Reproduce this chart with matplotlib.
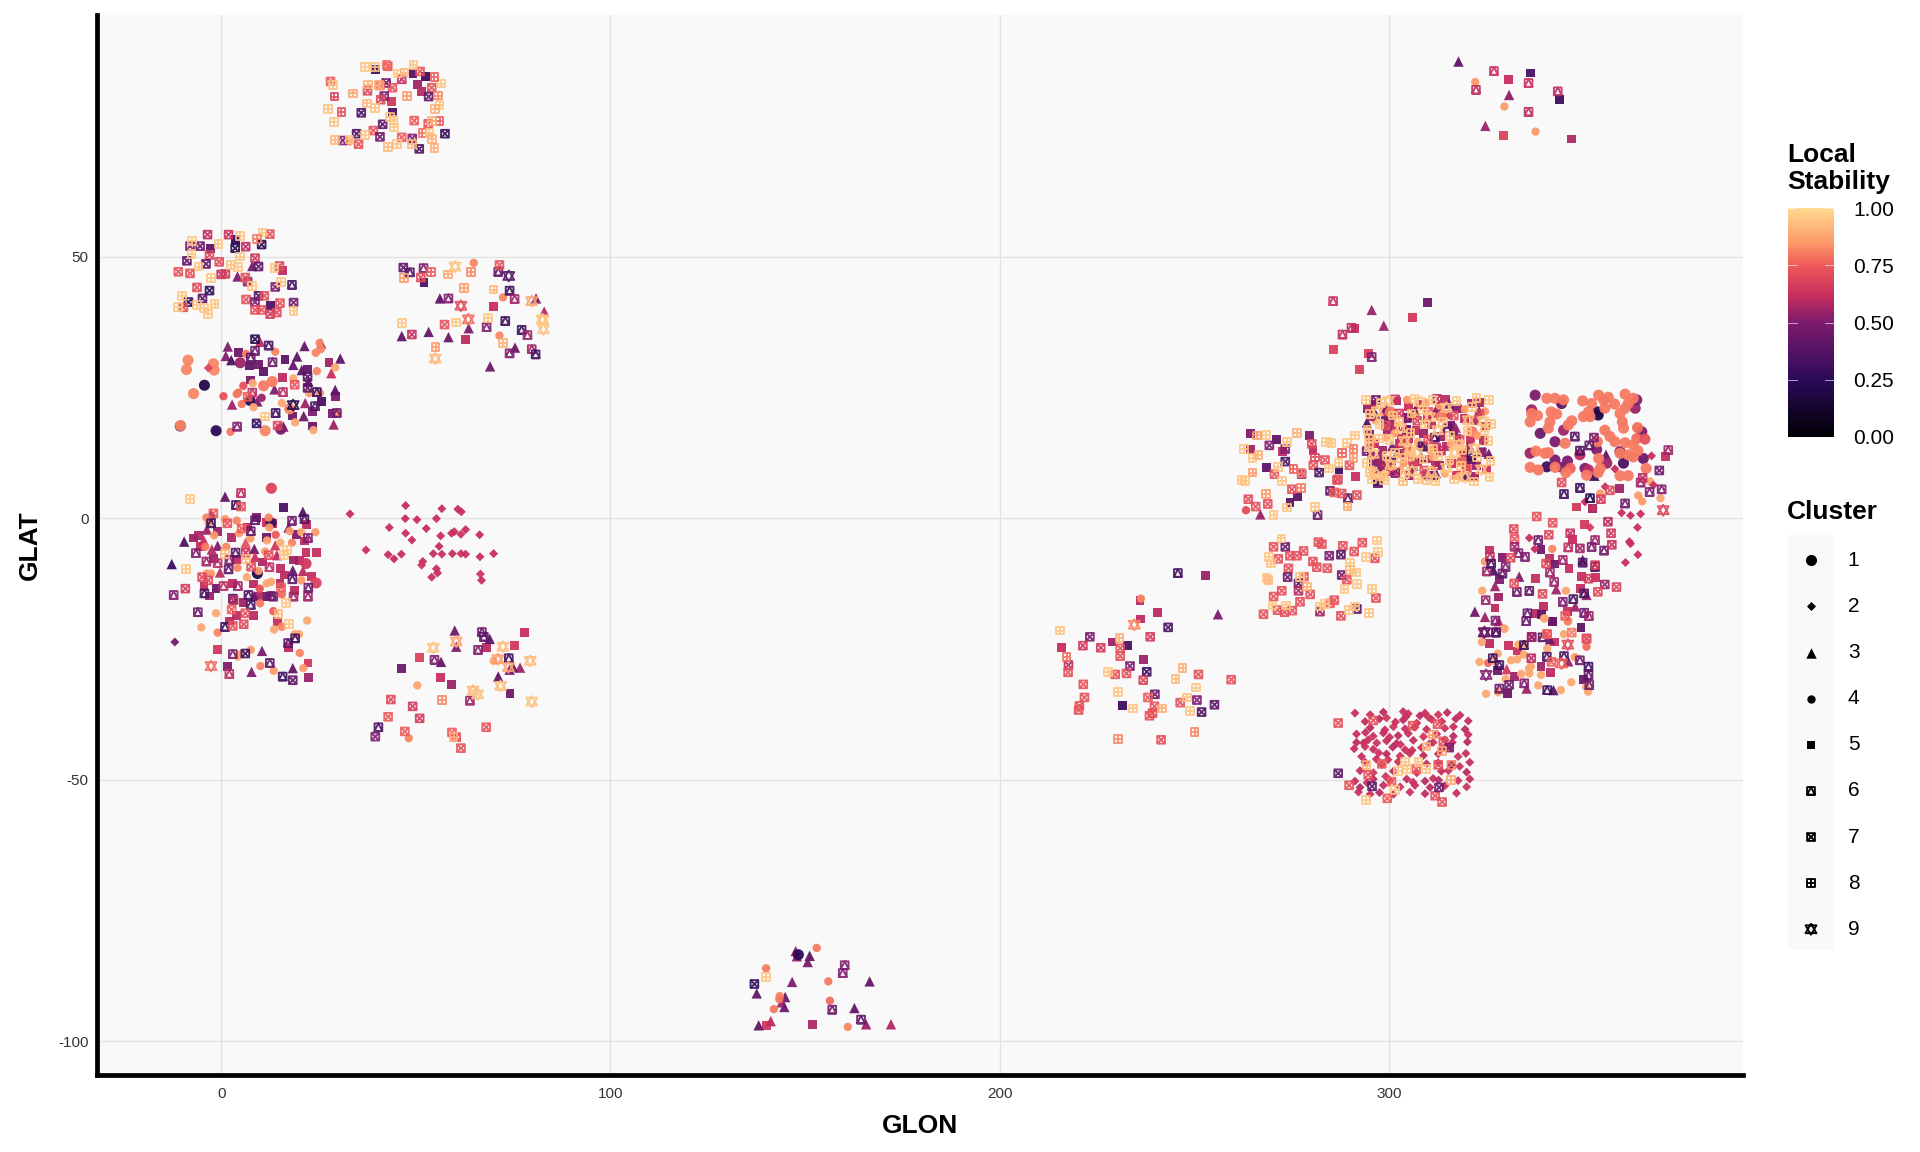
import matplotlib
matplotlib.use("Agg")
import matplotlib.pyplot as plt
import numpy as np
from matplotlib.colors import LinearSegmentedColormap
from matplotlib.path import Path

plt.rcParams['font.family'] = ['Liberation Sans', 'DejaVu Sans']
plt.rcParams['axes.unicode_minus'] = False

# every point is (GLON, GLAT, local stability)
cluster1 = [
    (-10.5,17.6,.4),(-4.3,25.4,.2),(-1.3,16.7,.25),(7.4,22.5,.25),(15.3,17,.5),(4.9,29.7,.55),(12.8,-.9,.3),(9.3,-10.6,.2),
    (12.9,5.7,.68),(24.4,-12.4,.68),(21.8,-8.7,.65),
    (-8.5,30.2,.82),(-8.9,28.4,.82),(-2,29.5,.82),(-1.8,28.3,.82),(-7.1,23.8,.82),(-10.4,17.7,.82),(11.3,16.7,.82),
    (10.9,25.3,.8),(13.1,26.1,.8),(17.6,20.9,.82),
    (337.6,23.5,.5),(336.7,20.7,.55),(344.4,21.9,.4),(353.6,20.3,.2),(353.8,19.7,.2),(363.3,21,.55),(363.7,22.6,.5),
    (342.7,14.6,.5),(344.9,16.8,.55),(338.9,16.2,.45),(336.3,12.4,.55),(349.1,12.1,.6),(353.4,13.1,.5),(342.7,11.1,.5),
    (345.9,10.9,.5),(344.5,9.7,.5),(350.4,9.5,.5),(351.3,9.2,.6),(356,10.5,.55),(360.3,10.5,.35),(365.4,11.4,.45),
    (365,16.5,.5),(359.4,12.7,.45),(340.6,9.8,.3),
    (336.3,18.4,.8),(336.7,20,.8),(338.2,19.6,.8),(340.6,22.9,.8),(342.7,22.9,.8),(344.9,22.6,.8),(341.7,20.3,.8),
    (343.1,19.9,.8),(341.4,18.4,.8),(341,17.2,.8),(349.8,22.4,.8),(352.1,21.9,.8),(353.9,23.5,.8),(356.4,23.1,.8),
    (355.2,22.6,.8),(358,21.8,.8),(360.7,23.7,.8),(362.8,22.9,.8),(361.5,21.9,.8),(360.7,21,.8),(359.4,20,.8),
    (360,18.4,.8),(360.3,17.2,.8),(355.5,21,.8),(351.3,20.3,.8),(350,19.4,.8),(351.7,19.4,.8),(347,18.6,.8),
    (346.1,17.8,.8),(355.5,16.8,.8),(356.8,15.6,.8),(358.1,14.6,.8),(360.7,14.4,.8),(363.9,17.3,.78),(363.7,15.2,.78),
    (362.8,14,.8),(365.8,15.1,.72),(353.6,14.6,.8),(345.3,14.3,.8),(337.8,12.8,.8),(340.1,12.4,.8),(341,12.5,.8),
    (336.3,9.7,.8),(338.4,9.2,.8),(342.7,9.7,.8),(346.6,9.5,.76),(345.5,8.7,.8),(350.8,8.2,.8),(353.9,11.4,.8),
    (354.3,9.5,.8),(353.8,8.7,.8),(359.4,12.4,.8),(361.5,12.1,.8),(362.8,11.7,.8),(364,12.9,.8),(361.5,8.1,.8),
    (359.4,8.1,.8),(366.1,9.5,.8),
    (300.4,20.3,.8),(313.4,19.4,.8),(305.2,12.6,.82),(318.7,10.8,.75),(297.7,11.2,.55),(309.5,8.3,.5),(321.4,16.5,.8),
    (148.3,-83.5,.25),
]
cluster2 = [
    (33.1,.8,.62),(37.2,-6.1,.62),(-11.9,-23.7,.47),(47.4,2.4,.62),(56.7,1.8,.62),(60.8,1.7,.62),(61.7,1.2,.62),
    (47.3,-.1,.62),(50.3,-.3,.62),(55.3,-.1,.62),(43.2,-1.8,.62),(52.7,-2,.62),(47.4,-2.9,.62),(56.4,-3.4,.62),
    (49,-4.2,.62),(59.2,-2.9,.62),(59.9,-2.6,.62),(62.8,-2.2,.62),(61.6,-3.1,.64),(66.4,-3.2,.62),(56,-5.4,.62),
    (54.5,-6.8,.62),(56.7,-6.9,.62),(59.4,-6.8,.62),(61.6,-6.8,.64),(62.8,-6.9,.62),(70,-6.8,.62),(66.5,-7.4,.62),
    (42.9,-7,.62),(44.4,-7.8,.62),(46.3,-6.9,.62),(51.8,-8.3,.62),(51.5,-9,.64),(55.3,-9.7,.62),(55.6,-10.5,.62),
    (54.1,-11.3,.62),(66.6,-10.7,.64),(66.9,-11.9,.62),
    (367.5,11.9,.62),(359.8,1,.62),(362.1,.5,.62),(364.7,.8,.62),(363.9,-1.8,.62),(361.8,-4.5,.62),(362.1,-4.9,.62),
    (364,-7,.62),(360.8,-8.5,.62),(351.7,-1.8,.66),(336.1,-3.8,.62),(337.5,-5.9,.62),(368,6.3,.62),(358.1,9.4,.62),
    (350.4,3.1,.62),(355.6,6,.62),(352.5,1.9,.62),(-3.3,28.7,.68),
    (291.3,-37.3,.62),(295.2,-37.6,.64),(298.6,-37.1,.6),(303.7,-37,.62),(305,-37.4,.64),(308,-37.8,.6),(309.3,-37.3,.62),(312.7,-37.6,.64),(315,-37.2,.6),(318.3,-37.7,.62),
    (293.9,-38.9,.62),(297.6,-38.4,.6),(299.4,-38.2,.64),(301.7,-39,.62),(303.7,-38.6,.6),(307.2,-39.2,.62),(311,-38.5,.64),(313.6,-38.9,.62),(317.2,-38.4,.6),(320.4,-38.8,.62),
    (295.2,-40.1,.6),(299,-40.5,.62),(301.2,-39.9,.64),(304.2,-40.3,.62),(306.7,-40,.6),(309.7,-40.4,.62),(314.4,-40.2,.64),(316.6,-39.9,.62),(319.6,-40.4,.6),
    (291.7,-41.3,.62),(296,-41.7,.64),(298.6,-41.1,.62),(302.4,-41.6,.6),(305,-41.2,.62),(308.9,-41.8,.64),(312.3,-41.3,.62),(316.6,-41.7,.6),(320.4,-41.4,.62),
    (291.7,-42.9,.6),(294.7,-42.4,.62),(296.9,-43,.64),(299.4,-42.6,.62),(302,-43.1,.6),(306.3,-42.5,.62),(311.4,-42.9,.64),(314.4,-42.4,.62),(320.2,-42.8,.6),
    (291.1,-44.1,.62),(293.9,-43.7,.64),(296,-44.2,.62),(301,-43.8,.6),(304.2,-44.3,.62),(308.4,-43.9,.64),(313.6,-44.2,.62),(315.7,-43.8,.6),
    (293,-45.6,.62),(299.4,-45.1,.6),(302.9,-45.5,.64),(305.4,-45,.62),(308.9,-45.4,.6),(312.7,-45.1,.62),(317.8,-45.6,.64),(319.8,-45,.62),
    (293.9,-46.7,.6),(298.2,-47.1,.62),(302.4,-46.6,.64),(309.7,-47,.62),(312.7,-46.8,.6),(316.1,-47.2,.3),(320.8,-46.7,.62),
    (292.6,-48.3,.62),(296,-48.7,.64),(301.2,-48.4,.6),(307.2,-48.7,.62),(315.3,-48.3,.64),(320,-48.6,.6),
    (291.3,-50.3,.62),(296,-49.9,.6),(300.3,-50.2,.64),(304.6,-49.9,.62),(309.3,-50.3,.6),(311.4,-49.8,.62),(317.8,-50.2,.64),(320.8,-49.9,.62),
    (292.6,-51.5,.6),(298.6,-51.1,.62),(302.9,-51.4,.64),(306.7,-51.1,.62),(310.6,-51.5,.6),(314.4,-51.2,.62),(320,-51.4,.64),
    (292.2,-52.4,.62),(295.2,-52.8,.64),(297.6,-52.5,.6),(301.2,-52.8,.62),(305.4,-52.4,.64),(309.3,-52.7,.6),(317.4,-52.6,.62),
    (294,-41,.62),(297.4,-44.9,.63),(300.2,-41.9,.62),(303,-43.3,.64),(306,-44.4,.62),(310.4,-43.2,.6),(299.8,-46.2,.64),(296.8,-46.1,.62),(313.5,-48.4,.62),
    (304.4,-38,.62),(310.2,-38.1,.64),(294.4,-50.6,.62),(299.2,-49.4,.64),(306.2,-50.5,.62),(312.8,-50.1,.6),(316.3,-42.9,.62),(318.2,-47.5,.64),(293.5,-43,.62),
]
cluster3 = [
    (4.2,46.2,.5),(8,48.2,.48),(1.7,32.8,.5),(1.2,31,.5),(2.6,30.2,.35),(10,33.7,.6),(21.4,32.9,.42),(25.7,33.4,.6),
    (30.6,30.5,.4),(19.5,30.9,.4),(18.5,29.3,.42),(20.7,28.3,.4),(28.3,27.7,.62),(22.4,26.1,.45),(13.7,24.6,.5),
    (29.3,24.5,.4),(2.8,21.7,.55),(9.3,22.3,.5),(21.6,22,.55),(21.2,19.5,.45),(16,17.5,.5),(28.9,17.9,.55),
    (56.2,42,.4),(80.9,42,.5),(83,39.5,.6),(46.4,34.8,.42),(53.3,35.6,.42),(58.4,34.6,.45),(63.6,36.3,.5),(75.5,32.6,.45),(69.1,29,.45),
    (60,-21.5,.45),(60.4,-24.6,.5),(56.5,-27.5,.42),(69,-23.1,.4),(74.1,-29,.5),(76.8,-28.6,.55),(75,-28.5,.45),(71.2,-30.3,.42),
    (1,4.1,.42),(-9.5,-4.5,.35),(-12.7,-8.8,.3),(-2.6,.7,.45),(21,1.2,.38),(-3.7,-2.2,.55),(17.3,-1.8,.5),(-.9,-5.3,.5),
    (-2.4,-6,.6),(-4.5,-4.2,.62),(6.3,-4.7,.72),(8.5,-5.9,.45),(13.9,-5.2,.65),(8.7,-7.4,.62),(14.3,-7.1,.6),(18.4,-10,.42),
    (21,-10.1,.6),(-.3,-10.4,.6),(8.5,-14.9,.45),(10.5,-25.4,.5),(7.8,-29.4,.5),(18.4,-28.7,.42),
    (267,.7,.55),(355.8,12.1,.4),(349.8,-8,.42),(333.5,-11.2,.5),(327.3,-13,.55),(343,-13.6,.55),(350.8,-14.7,.55),
    (347.9,-16.9,.55),(322.1,-17.9,.45),(324.7,-18.9,.55),(328.2,-19.7,.6),(326.9,-10,.35),(352.8,8.1,.3),
    (330.3,-28.9,.65),(335.4,-32.6,.55),(342.3,-32.9,.4),(346.1,-27.4,.55),(341.4,-23.2,.45),
    (295.6,39.8,.55),(298.7,36.8,.55),(256.1,-18.4,.5),
    (317.9,87.3,.4),(330.9,80.9,.52),(324.8,75,.55),
    (147.6,-82.8,.55),(147.9,-83.8,.55),(151.2,-83.7,.4),(150.7,-84.9,.5),(146.7,-88.7,.5),(166.6,-88.6,.42),(137.6,-90.9,.42),
    (144.9,-91.6,.45),(144,-92.6,.55),(144.7,-93.5,.45),(162.7,-93.7,.42),(141.2,-96.2,.6),(138.1,-97,.42),(165.7,-96.8,.55),(172.1,-96.8,.58),
    (299.5,21.2,.45),(308.4,11.6,.5),(317.2,17.3,.55),(297.6,9.4,.5),(304.1,17.6,.6),(320.6,13.9,.55),(312.1,8.6,.5),(302.3,12.7,.45),(315.5,21.9,.5),
    (318.4,21.1,.55),(296.5,20,.4),(323.2,20.5,.5),(306.7,20.6,.45),(300.9,13.8,.5),(311.8,20.2,.5),(294.4,18.3,.35),(325.7,12.3,.45),
]
cluster4 = [
    (13.9,31.8,.82),(6.4,31.4,.8),(8.1,25.8,.88),(5.7,25.3,.72),(4.4,24,.78),(4,23.7,.8),(.6,23.3,.72),(10.4,23,.55),
    (5.3,21.8,.8),(8.3,21.2,.88),(15.6,22,.88),(18.5,26.7,.88),(24.6,28.1,.82),(29.3,28.8,.88),(25.3,33.5,.82),(25.6,32.3,.82),
    (24.3,31.6,.82),(22.6,23.9,.85),(25.4,23.9,.85),(30.1,20.2,.85),(19,18.3,.88),(23.7,16.8,.88),(2.4,16.5,.8),
    (64.9,48.8,.82),(72.4,42.2,.82),(71.5,34.9,.82),
    (70,-27.3,.88),(50.4,-32,.88),(48.2,-42.1,.82),
    (12.2,.1,.82),(12.4,-1.8,.85),(4,-.5,.82),(1,-.2,.85),(-3.2,-1,.85),(-3.8,.1,.82),(24.2,-2.7,.85),(20.6,-2.7,.88),
    (17.6,-2.5,.85),(14,-3.2,.75),(4.6,-2.9,.85),(-1.8,-3.3,.85),(11.8,-4.3,.88),(15.2,-4.7,.9),(18.2,-4.7,.82),(7.5,-3.9,.85),
    (1.3,-5.5,.82),(-4.1,-5.5,.8),(11.3,-6.4,.85),(4.2,-9.5,.82),(9.6,-10.1,.85),(6.6,-11.3,.88),(-3.7,-10.6,.85),(-2.6,-10.6,.85),
    (11.7,-12.5,.88),(12.8,-12.2,.88),(20.6,-11.9,.85),(15.6,-14.6,.78),(9.9,-13.5,.72),(10,-16.3,.8),(-1.3,-18.2,.88),
    (13.4,-17.8,.75),(-5.1,-20.9,.88),(13.6,-21.3,.88),(15.6,-20.8,.82),(22.1,-19.6,.88),(-.9,-21.9,.82),(18.9,-22.2,.88),
    (20,-22.2,.88),(7.6,-25.2,.85),(4.3,-26.5,.88),(4.9,-26.1,.88),(20.2,-25.8,.82),(10.1,-28.3,.82),(13.5,-29.2,.85),(21.1,-28.7,.85),
    (263.3,1.5,.7),(354.3,4.7,.85),(364.1,4.3,.85),(369.8,3.8,.88),(365.1,3.2,.85),(367.1,7,.88),(342,-5.9,.82),(345.5,-13.9,.88),
    (324,-13.9,.88),(339.9,-19.2,.88),(329.7,-21.1,.88),(346.1,-19.6,.85),(324.7,-8.3,.85),
    (323.9,-23.7,.88),(323.3,-27.5,.88),(325.5,-27.7,.78),(328,-25.9,.88),(327.1,-27.3,.88),(331.4,-27.2,.88),(333,-27,.88),
    (334.7,-26.1,.88),(333.3,-24.2,.88),(334.8,-24.1,.88),(340.7,-25,.88),(345,-22.2,.88),(347.8,-26.6,.85),(336,-28.8,.88),
    (336.5,-28.3,.88),(336.1,-29.7,.88),(334,-29.8,.88),(339.1,-30,.88),(330,-30.8,.88),(338.4,-32,.88),(346.9,-31.4,.88),
    (344.2,-32.9,.88),(350.7,-32.3,.88),(351.2,-33.2,.88),(325,-33.6,.88),(328.1,-33.3,.88),(350.8,-24.6,.78),(329.7,-21.2,.88),
    (340,-19.2,.88),(346,-19.8,.82),(236.3,-15.4,.82),(322.2,83.4,.85),(329.7,78.7,.85),(337.7,73.9,.85),(33,72,.85),
    (153,-82.2,.8),(140,-86.1,.8),(156,-88.6,.8),(143.5,-91.4,.82),(143.4,-92,.8),(142,-93.9,.8),(156.4,-92.3,.78),(161,-97.3,.82),
    (306.5,19.5,.88),(299.4,15.4,.85),(311.3,11.7,.88),(319.5,20.8,.85),(316,14.2,.88),(303.8,10.5,.85),(296.4,18.7,.88),(309.6,22,.85),(298.7,8.3,.88),(314.4,8.5,.88),
    (301.5,16.2,.85),(307.5,14.6,.88),(313,21.5,.85),(322.7,15.8,.85),(318,8,.88),(304.7,22.6,.85),(295.8,9.3,.88),(310.6,13,.85),(324.7,20.4,.85),(302.9,9.2,.88),
]
cluster5 = [
    (39.7,85.8,.35),(49.3,85,.38),(52.5,84.4,.3),(50.4,82.9,.55),(51.5,81.6,.6),(43.8,79.7,.65),(44.1,77.5,.35),
    (-2.8,51.6,.4),(3.6,53.2,.25),(12.7,40.6,.35),(15.7,47.3,.6),
    (4.4,31.7,.45),(7.3,29.1,.4),(9.5,29.3,.45),(10.9,28,.4),(16.4,30.3,.4),(15.8,26.9,.6),(7.6,26.4,.5),(22.1,28.5,.42),
    (27.7,29.8,.55),(25.8,22.3,.35),(23.4,20.4,.5),(18.4,19.5,.45),(29.4,23.2,.5),(28.6,20,.5),(23.5,17.6,.45),
    (52.1,45.1,.35),(70,40.4,.62),(62.7,34.1,.6),
    (77.9,-21.9,.62),(75.3,-24.4,.65),(68.2,-24.7,.6),(50.9,-26.6,.68),(56.4,-30.5,.62),(59.2,-31.8,.55),(46.3,-28.8,.45),(74.2,-33.6,.45),
    (16,2,.35),(9.1,.1,.5),(-5.8,-3.4,.58),(11.6,-3.7,.45),(19.4,-3.2,.5),(-5.4,-5.5,.62),(24.4,-6.6,.62),(4,-7.9,.6),(21.8,-6.6,.62),
    (-1.3,-13.5,.45),(3,-12.5,.6),(8.3,-12.6,.6),(11.7,-15,.45),(8.3,-18.7,.6),(3.9,-18.7,.6),(2.1,-19.7,.6),(14.5,-19.8,.62),
    (-.9,-25.1,.65),(17.3,-24.8,.6),(22.3,-27.7,.65),(1.6,-28.4,.5),(22.4,-30.5,.55),(15.2,-9.6,.6),(18.8,-13.9,.6),(-4.4,-13.1,.62),(22,-1.3,.6),(11.5,-.9,.62),
    (264.4,16.1,.5),(271.2,15,.4),(279.6,15.8,.5),(264.4,13.1,.55),(272.7,12.8,.6),(280.5,12.9,.6),(268.6,9.6,.4),(287.2,9.2,.3),
    (276.5,4.1,.4),(274.6,3,.4),(291.5,7.9,.62),
    (350.2,-1.3,.65),(348.3,2.1,.65),(352.4,1.9,.55),(359.3,5.7,.55),(371.1,11.7,.62),(325.8,-6.1,.62),(329.2,-7.5,.5),(339.1,-6,.45),
    (341.3,-7.7,.6),(342.5,-8.8,.45),(346.3,-9.6,.62),(349.5,-11.1,.62),(353.2,-11.3,.62),(347.2,-4.1,.62),(337.6,-11.6,.62),(328.4,-11.8,.5),
    (328.2,-15.1,.55),(327.3,-17.2,.6),(339.8,-16.9,.6),(337.6,-18.2,.6),(342,-19.8,.45),(345.9,-17.8,.62),(349.4,-20.9,.4),(339.3,-18.4,.4),(349.3,-13.4,.62),
    (325.8,-24,.6),(330.7,-24.3,.62),(333,-25.4,.62),(342.5,-23.7,.62),(339.1,-28.4,.55),(341.6,-29.5,.6),(332.2,-30.3,.55),(327.9,-29.1,.45),(350.1,-30.9,.45),(330.4,-33.5,.45),(342,-19.8,.45),
    (253,-11,.55),(236.1,-15.8,.6),(240.6,-18.1,.6),(236.3,-19.3,.6),(228.9,-23.7,.55),(232.9,-24.3,.35),(216,-24.7,.62),(236.9,-27,.55),(231.6,-35.8,.3),
    (309.9,41.2,.45),(306,38.4,.65),(291.3,36.3,.62),(285.8,32.2,.68),(294.7,31.4,.68),(292.5,28.4,.68),
    (336.4,85.1,.35),(330.7,83.8,.62),(343.9,80.1,.3),(329.5,73.1,.68),(346.9,72.5,.58),
    (140.1,-97,.65),(151.9,-96.8,.58),
    (296,21.7,.6),(300.7,18.6,.55),(305.1,21.3,.62),(311,17.8,.6),(317.3,21,.5),(322,18.6,.6),(298.3,13,.55),(303.2,15.2,.62),(308.1,13.8,.6),
    (313.2,15.6,.55),(319.1,12.4,.62),(324.3,14.8,.6),(296.1,10.7,.5),(301,8.9,.62),(306.4,9.9,.55),(311.9,10.1,.6),(317.3,8.2,.62),(322.5,10.1,.55),
    (302,22.4,.58),(314.6,22.6,.6),(323.4,22.1,.58),(307,16.8,.62),(315.9,17.8,.45),(295,16,.5),(320,7.9,.35),(297,6.9,.3),
    (294.6,21,.55),(298.9,20.4,.62),(301.8,17.4,.6),(304.6,19.3,.55),(307.8,21.7,.62),(310,18.8,.6),(312.9,20.8,.55),(315.1,19.8,.62),(319.4,19,.6),(321.2,21.9,.55),
    (324.9,17.6,.62),(296.4,14.2,.6),(299.7,16.9,.55),(302.8,14.2,.62),(305.2,15.2,.6),(309,16.2,.55),(312.2,13.5,.62),(314.7,13.7,.6),(317.5,15.2,.55),(321,14.8,.62),
    (323.7,12.5,.6),(295.4,12,.55),(298.9,10,.62),(303.6,12.3,.6),(305.3,8.2,.55),(307.4,10.8,.62),(310.4,11.3,.6),(313,10.1,.55),(316.2,10.4,.62),(319.9,9.9,.6),
    (322.1,8,.55),(325,9.3,.62),(299,18.6,.45),(304.5,17,.4),(316.6,16.3,.45),(321.3,11.1,.42),(300.6,11,.42),(311.5,8.1,.45),
    (-7.2,-3.8,.55),(-1.9,-7.7,.55),(2.7,-3.7,.58),(6.8,-1.7,.6),(10.7,-8.4,.58),(16.2,-10.9,.6),(20.1,-8.1,.6),(23.2,-11.1,.62),(-3,-14.9,.55),(5.6,-16.1,.55),
    (9.5,-14.9,.58),(15.1,-12.5,.6),(18.6,-8,.55),(21.5,-4.4,.6),(-1,-2.5,.55),(13.2,-1.1,.6),
]
cluster6 = [
    (18.2,44.6,.32),(48.5,47,.35),(52,47.8,.5),(71.2,47.1,.4),(58.4,42,.5),(74.1,43.5,.3),(75.4,41.9,.55),
    (8.7,32,.45),(7.6,30.7,.4),(12.2,33,.35),(13.2,29.8,.45),(8,24,.6),(15.9,24.1,.6),(24.6,24.1,.3),(24.1,21.4,.35),(4.1,17.5,.5),(14,20.1,.3),(29.7,20.1,.45),
    (68.2,36.5,.5),(73,37.7,.3),(77.2,36,.3),(78.7,35,.55),(74.1,31.5,.5),(79.8,32.3,.55),(80.8,31.3,.32),
    (67,-21.8,.42),(67.5,-22.7,.4),(66,-25.2,.5),(54.8,-27.1,.5),(73.9,-26.8,.3),(63.9,-34.9,.55),(40.4,-40,.35),
    (5.1,4.8,.6),(3.8,2.5,.3),(18.2,-.5,.45),(-2.6,-1,.3),(8.7,-.4,.4),(21.4,-.2,.35),(7.6,-2.5,.4),(22.3,-3.8,.5),(-6.5,-6.7,.5),
    (-3.8,-8.3,.55),(-.9,-8.6,.6),(2.1,-8,.5),(3.7,-6.6,.4),(1.9,-9.8,.4),(12.4,-9.4,.6),(-12.2,-14.7,.5),(-6,-18,.45),(.6,-13,.6),
    (4.3,-13,.55),(13.4,-15,.5),(7,-14.7,.35),(3,-15.4,.35),(7.6,-16.6,.35),(18.6,-15,.55),(22.3,-15,.55),(1,-20.8,.3),(17.2,-23.9,.4),
    (19,-23,.3),(3,-26,.5),(12.5,-27.7,.4),(2.1,-29.8,.6),(15.8,-30.3,.3),(-4.3,-14.4,.35),(18.3,-11.7,.4),(22.4,-13.3,.45),(12.8,-14.9,.45),
    (281.7,.6,.45),(289.5,3.8,.4),
    (371.8,13,.55),(364.7,6.8,.55),(370.1,5.5,.5),(367,5,.5),(360.7,2.8,.45),(349.1,5.8,.3),(345,4.6,.3),(351.7,3.8,.2),(347.8,15.6,.4),
    (351.5,13.9,.4),(349.1,12.9,.35),(338.4,-4.2,.45),(353,-4.2,.55),(352.1,-5.5,.5),(355.3,-6.2,.45),(353,-9.3,.3),(349.8,-8.5,.35),(344.7,-8,.55),
    (335,-7.4,.5),(346.1,-5.6,.6),(326,-7.4,.6),(325.2,-10.2,.55),(329.2,-10.6,.4),(330,-9.3,.5),(336.1,-13.9,.4),(332.9,-14.1,.45),(342.5,-12.2,.55),
    (341.4,-10.4,.55),(344.7,-16,.5),(347.4,-15.5,.35),(350.2,-14.4,.35),(324.9,-15.7,.55),(335.6,-18.2,.4),(335.3,-19.7,.45),(350.2,-18.1,.45),
    (351.4,-18.7,.55),(327.4,-19.6,.5),(327.6,-21.8,.4),(326.3,-8.7,.35),(333.3,-6.7,.5),
    (327.5,-21.9,.4),(326.7,-26.8,.3),(328.4,-28.1,.3),(334.7,-24.3,.3),(339.5,-22.8,.35),(340.6,-26.5,.35),(345,-26.4,.35),(349.1,-27.2,.45),
    (351.3,-28.4,.3),(351.3,-30,.4),(351.5,-31.9,.45),(334.8,-31.6,.5),(328.4,-32.6,.45),(340.7,-32.9,.3),
    (245.8,-10.5,.3),(285.7,41.5,.62),(290.4,36.4,.6),(288.1,35.1,.6),(295.6,30.8,.5),
    (327,85.5,.62),(322.4,81.9,.6),(335.9,83.2,.62),(343.4,81.6,.6),(335.9,77.7,.6),
    (160.2,-85.5,.5),(159.7,-87,.5),(157,-94,.45),(164.4,-95.9,.4),
    (304.7,19.2,.45),(315,17.2,.4),(298.4,10.4,.55),(301.7,8.6,.5),(308.7,13.7,.3),(311.8,15.4,.3),(295.4,19.5,.55),(297.2,6.7,.42),(321.2,11.9,.3),
]
cluster7 = [
    (42.8,86.4,.72),(28.1,83.5,.75),(37.6,81.7,.7),(42.4,83.2,.45),(40.8,82.7,.8),(44,82.3,.72),(46.4,83.9,.62),(54.1,82.3,.72),(53.3,80.6,.42),(41.9,80.7,.5),
    (41,80,.7),(36,77.5,.35),(41.5,75.3,.4),(49.6,76,.75),(53.2,75.4,.72),(39.1,74.1,.72),(34.8,73.5,.35),(31.2,72.2,.5),(35.3,71.5,.72),(40.8,72.9,.48),
    (46.4,72.8,.75),(49.1,72.6,.5),(50.9,70.6,.35),(57.5,73.5,.28),(51.1,85.4,.72),
    (-3.5,54.2,.6),(1.9,54.2,.62),(12.5,54.3,.72),(-8,52,.5),(-5.4,52,.45),(6.3,51.9,.6),(3.6,51.6,.2),(10.4,52.3,.22),(-8.8,49.2,.42),(-3,50.3,.7),
    (-.5,49,.7),(-3.9,48.6,.42),(-11,47.1,.72),(-8,46.8,.72),(0,46.6,.62),(1.1,46.7,.65),(8.7,49.7,.65),(9.6,48.1,.4),(6.8,45.2,.55),(6.2,46,.72),
    (-6.2,44.1,.7),(-3,43.5,.25),(-4.8,42,.38),(-8.4,41.3,.25),(-9.7,40.3,.72),(6.4,41.8,.72),(9.6,42.5,.35),(11.1,42.5,.72),(8.7,41.3,.5),(15.1,41.1,.72),
    (13.9,44.2,.5),(18.6,41.2,.45),(8.7,39.8,.72),(10.4,39.8,.72),(12.6,39,.65),(14.3,39.3,.7),(15,48.2,.7),
    (8.7,34.2,.2),(22.2,27,.35),(22.2,24.9,.38),(18.9,25.5,.72),(9.1,18.1,.25),(14.5,17.7,.7),(6.8,23.2,.75),
    (46.8,47.9,.4),(51.3,46,.72),(71.5,48.4,.72),(49,35.1,.62),(57.4,37,.72),
    (43.6,-34.7,.7),(49.2,-36,.65),(51,-38.3,.65),(42.9,-38,.75),(47.2,-40.8,.75),(59.3,-41,.75),(68.1,-40,.72),(39.6,-41.8,.5),(60.4,-41.9,.7),(61.6,-44,.72),
    (5.1,2.2,.72),(-2,.9,.75),(-9.2,-13.5,.65),(6.3,-6.6,.62),(-4.9,-11.3,.7),(-3.3,-11.9,.7),(3.2,-15.7,.6),(2.7,-17.5,.75),(5.8,-20.3,.7),(3,-20.6,.72),
    (6.2,-18.2,.72),(15.4,-13.3,.75),(18.4,-31,.4),(6.2,-25.9,.3),(5.3,-2,.75),(1.6,-1,.72),(7.7,-9.3,.7),(12.2,-7.1,.7),
    (269.3,13.9,.5),(273.4,13.2,.5),(280.2,14.2,.7),(283.6,11.1,.72),(280.6,10.1,.72),(273.4,10.8,.35),(289.9,10.1,.72),(282.1,8.7,.35),(270.6,8.4,.72),
    (277.6,8.4,.55),(275.1,5.5,.72),(286.9,7.4,.6),(284.9,5.2,.42),(287.9,4.7,.72),(291.8,4.4,.72),(263.9,3.6,.7),(265.8,2.2,.72),(268.9,2.7,.72),(286,4.9,.75),
    (270.4,-5.5,.72),(273.4,-5.5,.45),(281.9,-4.6,.72),(282.8,-5,.72),(288.2,-5.3,.72),(293.2,-4.7,.72),(284.7,-7.2,.5),(287.7,-7,.4),(291.1,-6.4,.72),
    (278.1,-6.3,.72),(274.6,-7.2,.72),(276.4,-7.2,.72),(271.6,-7.8,.72),(280.5,-8.3,.72),(296.4,-7.7,.72),(274.2,-9.6,.72),(281.5,-9.4,.72),(284.2,-9.6,.72),
    (274,-11.3,.45),(287.9,-10.9,.45),(278.2,-11.2,.75),(289.2,-11.8,.72),(276.8,-12.5,.4),(272.5,-13.9,.72),(279.8,-14.6,.72),(276.8,-13.9,.6),(296.7,-15.3,.72),
    (270.4,-15,.72),(277.2,-16,.72),(286,-15.7,.72),(284.9,-16.3,.75),(291.8,-17.4,.4),(271.4,-17.6,.72),(273.2,-18,.72),(275.2,-17.7,.72),(282.3,-17.9,.55),(287.7,-18.7,.72),(267.8,-18.4,.72),
    (344.4,6.8,.7),(352.7,15.4,.5),(369.5,9.1,.45),(365.2,7.7,.6),(356.8,5.3,.7),(354.5,3.6,.65),(338,.3,.72),(342.1,-.9,.72),(356.3,-.7,.6),(332.1,-2.1,.7),
    (346.6,-2.9,.62),(357.1,-2.9,.65),(357.3,-5.1,.62),(341.1,-3.2,.7),(332.3,-4,.72),(332.3,-5.5,.55),(349.1,-5.8,.55),(331.3,-7.6,.7),(340.4,-8.7,.7),(353,-9,.65),
    (351.3,-11.6,.65),(355.5,-12.7,.55),(358.5,-13.2,.68),(339.5,-14.5,.7),(332.2,-12.5,.72),(353.7,-14.1,.7),(345.3,-18.7,.75),(340.6,-22.2,.75),(336.7,-22.7,.55),(350.8,-23,.65),
    (336.7,-22.8,.55),(340.7,-22.2,.75),(336.6,-26.8,.6),(341.8,-27.5,.75),(350.8,-23.1,.72),(330.9,-31.9,.45),(347,-21.9,.8),
    (223.2,-22.7,.5),(238.7,-22.7,.65),(221.4,-24.4,.65),(226,-24.8,.65),(231,-24.9,.72),(231,-26.4,.72),(217.7,-28.1,.6),(233.5,-28.3,.5),(237.8,-29.4,.3),(217.6,-29.5,.72),
    (229.7,-29.9,.72),(232.6,-29.7,.72),(251.1,-29.9,.72),(259.5,-30.9,.72),(236.9,-31,.68),(221.5,-31.8,.72),(239.9,-33.7,.45),(221.8,-34.3,.72),(238.1,-34.3,.75),(250.7,-34.8,.5),
    (246.4,-35.3,.72),(255.2,-35.7,.4),(220.5,-35.9,.72),(220.3,-36.7,.72),(239.8,-36,.72),(239.3,-37.3,.72),(238.5,-37.8,.72),(251.9,-37.1,.35),(241.5,-42.4,.72),(243.3,-20.9,.35),
    (287,-39.2,.72),(287,-48.8,.4),(289.8,-51.1,.72),(295.7,-51.3,.4),(296,-38.7,.72),(306.1,-39.7,.72),(312.5,-39.4,.72),(314,-42.7,.72),(315.5,-43.9,.5),(294.7,-49.1,.72),
    (298.2,-47,.75),(307,-48,.75),(312.7,-47.2,.72),(300.7,-50.4,.75),(299.6,-53.6,.75),(311.9,-53.1,.72),(313.7,-54.3,.72),(312.9,-51.5,.45),(316.1,-47.2,.8),
    (137,-89.1,.25),
    (295.5,14.5,.7),(299.2,17.7,.72),(302.7,20,.65),(306.2,11,.7),(310.2,20.3,.72),(313.4,12.9,.6),(316.7,19.6,.72),(320.1,9.4,.75),(323.3,19.9,.7),(296.7,22.6,.45),
    (300.4,9.9,.75),(304.7,14.1,.7),(309.1,9.1,.72),(312.4,22.8,.6),(318.2,15,.7),(323.9,12.6,.5),(301.6,22.7,.62),(307.3,18.6,.68),(294.3,12.8,.45),(310.1,15,.72),
]
cluster8 = [
    (36.9,86.2,.95),(39.5,86.2,.95),(42.5,86.6,.78),(49.4,86.6,.95),(45.3,85,.95),(47.1,85.2,.92),(28.7,82.8,.95),(29.1,80.6,.68),(33.8,81.2,.88),(37.8,82.9,.9),
    (40.6,82.8,.88),(47.7,80.7,.85),(55.8,80.8,.82),(56.5,83.1,.95),(54.8,84.4,.75),(37.4,79.3,.92),(39.5,78.4,.95),(27.4,78.2,.95),(30.9,77.7,.72),(28.9,75.8,.95),
    (43.4,76.7,.95),(44.3,76.1,.95),(44.4,74.7,.95),(56.1,76,.75),(54.1,75.9,.9),(56.1,79,.95),(55,78.2,.9),(51.7,73.6,.78),(53.5,73.6,.95),(29.3,72.3,.92),
    (33,72.4,.95),(36.9,73.2,.95),(54.1,72.5,.9),(45.1,71.6,.95),(49,71.5,.92),(42.8,70.9,.92),(54.8,70.8,.9),
    (-7.5,53,.95),(-.7,52.4,.95),(4.9,53.9,.95),(10.6,54.6,.95),(9.3,53.4,.8),(-7.6,50.5,.95),(4.9,50,.95),(2.6,48.4,.95),(4.4,48,.95),(-5.8,48.1,.95),
    (13.7,47.8,.95),(-2.6,45.9,.95),(8,44.4,.95),(15.3,45.2,.95),(-10,42.5,.95),(-11.1,40.3,.95),(-6.3,40.7,.95),(-4.5,40.2,.95),(-1.7,40.9,.95),(-3.4,39,.95),(18.6,39.6,.95),
    (11.2,19.4,.95),
    (54,47.1,.75),(46.9,45.9,.85),(58.2,46.6,.88),(64.2,47,.82),(62.3,44,.85),(70,43.7,.92),(46.4,37.3,.95),(60.4,37.4,.95),(68.5,38.3,.95),(55.1,32.7,.85),(72.4,33.5,.9),
    (56.8,-34.8,.82),(59.7,-41.8,.9),
    (-8,3.7,.95),(-9,-9.8,.95),(16.6,-16.2,.95),(14.7,-18.4,.93),(17.5,-20.3,.95),(1,-6.9,.92),(6.4,-7.8,.92),(16.9,-6.1,.95),(16.2,-7.1,.95),
    (268.5,15.9,.95),(276.5,16.3,.9),(266.1,15.8,.85),(273.8,14.6,.95),(283.9,14.6,.95),(285.3,14.3,.95),(289.2,14.4,.95),(291.3,15.8,.95),(290.9,13.2,.8),(262.7,13.2,.95),
    (265,11.5,.95),(266.5,12.1,.9),(287.9,12.4,.75),(290.9,11.5,.85),(287.1,10.6,.95),(281.1,11.6,.7),(271.6,9.8,.95),(284.7,9.5,.95),(275.5,9.4,.75),(265,8.7,.85),
    (263.1,7.1,.95),(262.2,7.3,.95),(272.5,7.1,.95),(277.5,5.7,.8),(268.5,4.6,.85),(281.1,2.1,.95),(273.8,2,.95),(289.4,2.2,.88),(270.4,.6,.95),(277.6,8.6,.8),(286.6,7.3,.75),
    (272.4,-3.9,.95),(296.9,-4.3,.95),(297.2,-6.5,.95),(269.3,-7.4,.95),(269.7,-8.7,.95),(294.1,-7.4,.95),(290.1,-8.5,.95),(290.1,-9.9,.92),(291.5,-10.4,.95),(268.6,-11.5,.95),
    (269.1,-11.8,.92),(277.2,-11.2,.95),(278.9,-13.1,.9),(291.8,-12.6,.95),(288.6,-13.5,.95),(295.6,-13.6,.95),(270.1,-16.7,.95),(273.5,-16.7,.95),(282.3,-16.9,.95),(283.6,-16.5,.95),
    (291.3,-16.9,.95),(289.8,-17.6,.95),(295,-18.1,.95),
    (215.5,-21.5,.95),(230.8,-22.9,.9),(217.2,-26.6,.78),(247,-28.7,.9),(227.9,-29.5,.95),(245.2,-30.8,.92),(250.4,-32.4,.95),(230.5,-33.2,.95),(248.1,-34.3,.95),(234.3,-36.4,.95),
    (241.7,-36.4,.9),(249,-36.9,.95),(250.1,-40.9,.82),(230.4,-42.3,.82),
    (294.1,-53.9,.95),(309.7,-43.7,.92),(311.4,-41.4,.85),(313.7,-44.5,.88),(302.4,-48.3,.95),(304.6,-48,.95),(307.6,-46.6,.95),(309.5,-48,.95),(315.9,-50.1,.88),(294.3,-47.2,.9),(304.2,-46.6,.95),(301.6,-52,.95),
    (139.9,-87.7,.95),
    (294.2,22.6,.95),(295.1,19.9,.95),(294.5,16.9,.93),(295,13.6,.95),(294.4,10.5,.95),(295.2,8.7,.95),(295.6,7.4,.95),(298.7,7.2,.95),(303.6,7,.93),(307.4,7.5,.95),
    (312,7.1,.95),(316.8,7.4,.95),(321.8,7,.95),(325.9,7.8,.95),(326.1,10.9,.95),(325.6,14.7,.95),(326.3,18,.93),(325.8,22.6,.95),(301,19.6,.95),(305.6,16.2,.95),
    (311.4,13.3,.95),(315.6,11,.95),(299.4,11.9,.95),(303.2,11.5,.93),(308.7,20.7,.95),(320.2,16.6,.95),(317.4,22.4,.95),(297.4,15.2,.95),(308.9,11.2,.95),(321.4,21.3,.95),
    (300.2,14.9,.95),(313.9,18.4,.95),(318.6,10,.95),(306.6,22.8,.95),
    (296.3,8.4,.93),(297.6,18,.95),(302.6,18.4,.95),(305.8,20,.93),(309.3,17.9,.95),(315.8,15.7,.95),(318.8,13,.93),(322.6,11.6,.95),(324.6,16.7,.95),(322.5,23,.95),
    (312.6,11.8,.95),(305.4,11.9,.93),(301.5,12.5,.95),(298,22,.95),(311.2,22.6,.95),(304.2,8.4,.95),(309.7,7.2,.93),(295,15.2,.95),
]
cluster9 = [
    (60.1,48.1,.95),(73.9,46.3,.35),(61.6,40.6,.7),(63.5,38,.78),(79.8,41.5,.88),(82.5,38,.95),(55,30.5,.92),(82.6,37.9,.95),(82.8,36.1,.95),
    (18.5,21.6,.2),
    (54.5,-24.8,.95),(60.4,-23.6,.88),(72.4,-24.6,.93),(71.1,-27,.85),(79.4,-27.3,.93),(73.8,-28.5,.88),(64.7,-33,.92),(65.9,-33.7,.95),(71.8,-32.1,.93),(79.8,-35.1,.95),
    (-2.6,-28.3,.78),(370.5,1.5,.68),(324.6,-21.8,.5),(324.5,-21.9,.45),(325,-30,.5),(346,-24.2,.7),(344.4,-27.8,.75),(234.6,-20.4,.82),
    (297,20.4,.95),(303,17.2,.95),(298.6,8,.95),(310.5,19.3,.95),(314.8,9.6,.95),(320.4,18.7,.93),(305.5,13.1,.95),(318,14,.95),(300.5,10.2,.95),(312.6,16.8,.95),(306,9,.95),(323.8,9.3,.95),(308,22.2,.95),(322,13.3,.95),(296,12.3,.95),
    (299.9,22.4,.95),(304,14.7,.95),(307.2,12.5,.95),(311,8.9,.93),(314.8,21.1,.95),(316.9,12.5,.95),(319.6,7.8,.95),(324.2,18.5,.95),
]

# colour stops of the legend bar
bar_stops = [0, .25, .5, .62, .75, .85, 1]
bar_colors = ['#000004', '#2c0b5a', '#7d1c6e', '#c92f5f', '#ee5a5a', '#fd9a6a', '#ffd98f']
legend_ticks = [0, .25, .5, .75, 1]
legend_tick_labels = ['0.00', '0.25', '0.50', '0.75', '1.00']
cluster_names = ['1', '2', '3', '4', '5', '6', '7', '8', '9']
x_ticks = [0, 100, 200, 300]
y_ticks = [-100, -50, 0, 50]

stability_cmap = LinearSegmentedColormap.from_list('stability', list(zip(bar_stops, bar_colors)))


def stroke_marker(*parts):
    verts, codes = [], []
    for part, closed in parts:
        verts += part
        codes += [Path.MOVETO] + [Path.LINETO] * (len(part) - 1)
        if closed:
            verts.append(part[0])
            codes.append(Path.CLOSEPOLY)
    return Path(verts, codes)


square = ([(-1, -1), (1, -1), (1, 1), (-1, 1)], True)
tri_up = ([(-1, -.72), (1, -.72), (0, 1)], True)
tri_down = ([(-1, .72), (1, .72), (0, -1)], True)
inner_tri = ([(-1, -1), (1, -1), (0, 1)], True)
marker_6 = stroke_marker(square, inner_tri)
marker_7 = stroke_marker(square, ([(-1, -1), (1, 1)], False), ([(-1, 1), (1, -1)], False))
marker_8 = stroke_marker(square, ([(-1, 0), (1, 0)], False), ([(0, -1), (0, 1)], False))
marker_9 = stroke_marker(tri_up, tri_down)

# marker, size, hollow
styles = {
    1: ('o', 64, False), 2: ('D', 21, False), 3: ('^', 56, False), 4: ('o', 36, False), 5: ('s', 40, False),
    6: (marker_6, 31, True), 7: (marker_7, 31, True), 8: (marker_8, 31, True), 9: (marker_9, 62, True),
}
clusters = {1: cluster1, 2: cluster2, 3: cluster3, 4: cluster4, 5: cluster5,
            6: cluster6, 7: cluster7, 8: cluster8, 9: cluster9}


def px_axes(fig, left, top, right, bottom):
    return fig.add_axes([left / 1920, 1 - bottom / 1152, (right - left) / 1920, (bottom - top) / 1152])


fig = plt.figure(figsize=(19.2, 11.52), dpi=100)
ax = px_axes(fig, 97, 15, 1743, 1075)
ax.set_facecolor('#f9f9f9')
ax.set_xlim(-31.9, 391)
ax.set_ylim(-106.5, 96.2)
ax.set_xticks(x_ticks)
ax.set_yticks(y_ticks)
ax.grid(color='#e2e2e2', linewidth=1.0)
ax.set_axisbelow(True)
ax.tick_params(length=0, labelsize=11, labelcolor='#333333')
ax.tick_params(axis='x', pad=9)
ax.tick_params(axis='y', pad=6)
ax.spines['top'].set_visible(False)
ax.spines['right'].set_visible(False)
ax.spines['left'].set_linewidth(3.4)
ax.spines['bottom'].set_linewidth(3.4)
ax.set_xlabel('GLON', fontsize=19, fontweight='bold', labelpad=9)
ax.set_ylabel('GLAT', fontsize=19, fontweight='bold', labelpad=12)

for c in [5, 3, 1, 4, 2, 6, 7, 8, 9]:
    lon, lat, stab = np.array(clusters[c]).T
    marker, size, hollow = styles[c]
    colors = stability_cmap(stab)
    if hollow:
        ax.scatter(lon, lat, marker=marker, s=size, facecolors='none', edgecolors=colors, linewidths=1.35, alpha=.9, clip_on=False)
    else:
        ax.scatter(lon, lat, marker=marker, s=size, c=colors, linewidths=0, alpha=.95, clip_on=False)

# colour bar legend
fig.text(1787 / 1920, 1 - 155 / 1152, 'Local', fontsize=19, fontweight='bold', va='center')
fig.text(1787 / 1920, 1 - 182 / 1152, 'Stability', fontsize=19, fontweight='bold', va='center')
cax = px_axes(fig, 1788, 208, 1834, 437)
cax.imshow(np.linspace(1, 0, 256).reshape(-1, 1), cmap=stability_cmap, aspect='auto', extent=[0, 1, 0, 1], vmin=0, vmax=1)
cax.set_xticks([])
cax.yaxis.tick_right()
cax.set_yticks(legend_ticks)
cax.set_yticklabels(legend_tick_labels, fontsize=15)
cax.tick_params(length=0, pad=14)
for s in cax.spines.values():
    s.set_visible(False)
for t in legend_ticks:
    cax.plot([0, .2], [t, t], color='white', lw=.6, alpha=.7)
    cax.plot([.8, 1], [t, t], color='white', lw=.6, alpha=.7)
cax.set_xlim(0, 1)
cax.set_ylim(0, 1)

# cluster legend
fig.text(1787 / 1920, 1 - 512 / 1152, 'Cluster', fontsize=19, fontweight='bold', va='center')
lax = px_axes(fig, 1788, 535, 1834, 950)
lax.set_facecolor('#f9f9f9')
lax.set_xlim(0, 1)
lax.set_ylim(9, 0)
lax.set_xticks([])
lax.set_yticks([])
for s in lax.spines.values():
    s.set_visible(False)
for i, name in enumerate(cluster_names):
    marker, size, hollow = styles[i + 1]
    if hollow:
        lax.scatter(.5, i + .55, marker=marker, s=size, facecolors='none', edgecolors='black', linewidths=1.35)
    else:
        lax.scatter(.5, i + .55, marker=marker, s=size, c='black', linewidths=0)
    lax.text(1.3, i + .55, name, fontsize=15, va='center', ha='left')

fig.savefig('out.png', dpi=100)
